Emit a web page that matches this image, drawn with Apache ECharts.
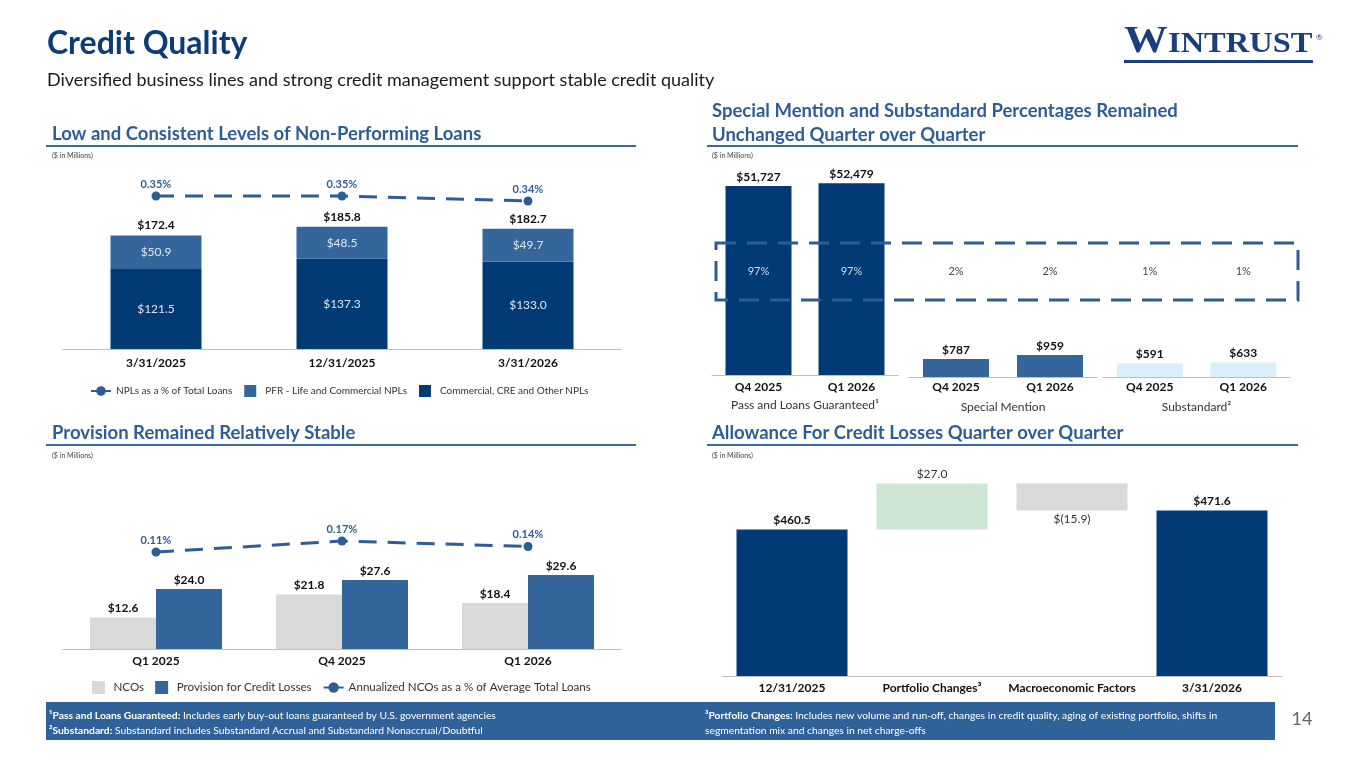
<!DOCTYPE html>
<html>
<head>
<meta charset="utf-8">
<title>Credit Quality</title>
<script src="https://cdn.jsdelivr.net/npm/echarts@6.0.0/dist/echarts.min.js"></script>
<style>
    html, body { margin: 0; padding: 0; background: #fff; }
    #container { width: 1365px; height: 768px; }
</style>
</head>
<body>
<div id="container"></div>
<script>
// non-performing loans
var nplDates = ['3/31/2025', '12/31/2025', '3/31/2026'];
var nplCommercial = [121.5, 137.3, 133.0];
var nplPfr = [50.9, 48.5, 49.7];
var nplPct = [0.35, 0.35, 0.34];

// risk rating buckets
var ratingQuarters = ['Q4 2025', 'Q1 2026'];
var passLoans = [51727, 52479];
var specialMention = [787, 959];
var substandard = [591, 633];
var passPct = [97, 97];
var specialPct = [2, 2];
var substandardPct = [1, 1];

// provision
var provQuarters = ['Q1 2025', 'Q4 2025', 'Q1 2026'];
var ncos = [12.6, 21.8, 18.4];
var provision = [24.0, 27.6, 29.6];
var ncoPct = [0.11, 0.17, 0.14];

// allowance walk
var aclSteps = ['12/31/2025', 'Portfolio Changes\u00b3', 'Macroeconomic Factors', '3/31/2026'];
var aclStart = 460.5;
var aclChanges = [27.0, -15.9];
var aclEnd = 471.6;

var NAVY = '#023a75', MID = '#34669b', LIGHT = '#dbeefb', GRAY = '#d9d9d9', GREEN = '#cfe5d3';
var ACCENT = '#2e5d96';
var FONT = 'Lato';

var myChart = echarts.init(document.getElementById('container'));

function money(v) {
    return '$' + v.toFixed(1);
}
function thousands(v) {
    return '$' + String(v).replace(/\B(?=(\d{3})+(?!\d))/g, ',');
}

var nplTotal = nplCommercial.map(function (v, i) { return +(v + nplPfr[i]).toFixed(1); });

// waterfall: invisible base + visible step
var aclBase = [0], aclDelta = [{value: aclStart, itemStyle: {color: NAVY}, label: {fontWeight: 'bold', color: '#111', formatter: money(aclStart)}}];
var running = aclStart;
aclChanges.forEach(function (c) {
    if (c >= 0) {
        aclBase.push(running);
        aclDelta.push({value: c, itemStyle: {color: GREEN}, label: {position: 'top', formatter: money(c)}});
        running += c;
    } else {
        running += c;
        aclBase.push(running);
        aclDelta.push({value: -c, itemStyle: {color: GRAY}, label: {position: 'bottom', formatter: '$(' + (-c).toFixed(1) + ')'}});
    }
});
aclBase.push(0);
aclDelta.push({value: aclEnd, itemStyle: {color: NAVY}, label: {fontWeight: 'bold', color: '#111', formatter: money(aclEnd)}});

function catAxis(grid, data, margin, extra) {
    var ax = {
        type: 'category', gridIndex: grid, data: data,
        axisTick: {show: false},
        axisLine: {lineStyle: {color: '#bfbfbf', width: 1}},
        axisLabel: {interval: 0, fontFamily: FONT, fontWeight: 'bold', fontSize: 12, color: '#111', margin: margin}
    };
    for (var k in extra) ax[k] = extra[k];
    return ax;
}
function valAxis(grid, min, max) {
    return {type: 'value', gridIndex: grid, min: min, max: max, show: false, splitLine: {show: false}};
}
function groupName(name) {
    return {name: name, nameLocation: 'middle', nameGap: 24,
        nameTextStyle: {fontFamily: FONT, fontSize: 12, color: '#333'}};
}

var topLabel = {show: true, position: 'top', distance: 3, fontFamily: FONT, fontWeight: 'bold', fontSize: 12, color: '#111'};
var square = 'path://M0,0h10v10h-10z';

option = {
    animation: false,
    textStyle: {fontFamily: FONT},
    grid: [
        {left: 63, top: 178, width: 558, height: 171, outerBoundsMode: 'none'},
        {left: 712, top: 170, width: 186, height: 205, outerBoundsMode: 'none'},
        {left: 909, top: 172, width: 188, height: 205, outerBoundsMode: 'none'},
        {left: 1103, top: 172, width: 187, height: 205, outerBoundsMode: 'none'},
        {left: 63, top: 539, width: 558, height: 110, outerBoundsMode: 'none'},
        {left: 722, top: 462, width: 560, height: 214, outerBoundsMode: 'none'}
    ],
    xAxis: [
        catAxis(0, nplDates, 8),
        catAxis(1, ratingQuarters, 6, groupName('Pass and Loans Guaranteed\u00b9')),
        catAxis(2, ratingQuarters, 4, groupName('Special Mention')),
        catAxis(3, ratingQuarters, 4, groupName('Substandard\u00b2')),
        catAxis(4, provQuarters, 6),
        catAxis(5, aclSteps, 6)
    ],
    yAxis: [
        valAxis(0, 0, 260),
        valAxis(0, 0.044, 0.386),
        valAxis(1, 0, 56100),
        valAxis(2, 0, 8950),
        valAxis(3, 0, 8950),
        valAxis(4, 0, 44),
        valAxis(4, -0.419, 0.181),
        valAxis(5, 375, 500)
    ],
    legend: [
        {
            left: 85, top: 380, itemWidth: 20, itemHeight: 12, itemGap: 12,
            textStyle: {fontFamily: FONT, fontSize: 10, color: '#333'},
            data: [
                {name: 'NPLs as a % of Total Loans', lineStyle: {type: 'solid'}},
                {name: 'PFR - Life and Commercial NPLs', icon: square},
                {name: 'Commercial, CRE and Other NPLs', icon: square}
            ]
        },
        {
            left: 87, top: 676, itemWidth: 20, itemHeight: 13, itemGap: 11,
            textStyle: {fontFamily: FONT, fontSize: 11.6, color: '#333'},
            data: [
                {name: 'NCOs', icon: square},
                {name: 'Provision for Credit Losses', icon: square},
                {name: 'Annualized NCOs as a % of Average Total Loans', lineStyle: {type: 'solid'}}
            ]
        }
    ],
    series: [
        {
            name: 'Commercial, CRE and Other NPLs', type: 'bar', stack: 'npl',
            xAxisIndex: 0, yAxisIndex: 0, barWidth: 91, data: nplCommercial,
            itemStyle: {color: NAVY},
            label: {show: true, position: 'inside', fontFamily: FONT, fontSize: 12, color: '#dde6f0',
                formatter: function (p) { return money(p.value); }}
        },
        {
            name: 'PFR - Life and Commercial NPLs', type: 'bar', stack: 'npl',
            xAxisIndex: 0, yAxisIndex: 0, barWidth: 91, data: nplPfr,
            itemStyle: {color: MID},
            label: {show: true, position: 'inside', fontFamily: FONT, fontSize: 12, color: '#dde6f0',
                formatter: function (p) { return money(p.value); }}
        },
        {
            // zero-height cap on the stack, only carries the total label
            name: 'npl total', type: 'bar', stack: 'npl',
            xAxisIndex: 0, yAxisIndex: 0, barWidth: 91, silent: true,
            data: nplTotal.map(function () { return 0; }),
            itemStyle: {color: 'rgba(0,0,0,0)'},
            label: {show: true, position: 'top', distance: 4, fontFamily: FONT, fontWeight: 'bold', fontSize: 12, color: '#111',
                formatter: function (p) { return money(nplTotal[p.dataIndex]); }}
        },
        {
            name: 'NPLs as a % of Total Loans', type: 'line', xAxisIndex: 0, yAxisIndex: 1,
            data: nplPct, symbol: 'circle', symbolSize: 9,
            lineStyle: {color: ACCENT, width: 3, type: [18, 11]},
            itemStyle: {color: ACCENT},
            label: {show: true, position: 'top', distance: 2, fontFamily: FONT, fontWeight: 'bold', fontSize: 11, color: ACCENT,
                formatter: function (p) { return p.value.toFixed(2) + '%'; }}
        },
        {
            name: 'Pass and Loans Guaranteed', type: 'bar', xAxisIndex: 1, yAxisIndex: 2,
            data: passLoans, barWidth: 66, itemStyle: {color: NAVY},
            label: Object.assign({}, topLabel, {formatter: function (p) { return thousands(p.value); }})
        },
        {
            name: 'Special Mention', type: 'bar', xAxisIndex: 2, yAxisIndex: 3,
            data: specialMention, barWidth: 66, itemStyle: {color: MID},
            label: Object.assign({}, topLabel, {formatter: function (p) { return thousands(p.value); }})
        },
        {
            name: 'Substandard', type: 'bar', xAxisIndex: 3, yAxisIndex: 4,
            data: substandard, barWidth: 66, itemStyle: {color: LIGHT},
            label: Object.assign({}, topLabel, {formatter: function (p) { return thousands(p.value); }})
        },
        {
            name: 'NCOs', type: 'bar', xAxisIndex: 4, yAxisIndex: 5,
            data: ncos, barWidth: 66, barGap: '0%', itemStyle: {color: GRAY},
            label: Object.assign({}, topLabel, {formatter: function (p) { return money(p.value); }})
        },
        {
            name: 'Provision for Credit Losses', type: 'bar', xAxisIndex: 4, yAxisIndex: 5,
            data: provision, barWidth: 66, barGap: '0%', itemStyle: {color: MID},
            label: Object.assign({}, topLabel, {formatter: function (p) { return money(p.value); }})
        },
        {
            name: 'Annualized NCOs as a % of Average Total Loans', type: 'line', xAxisIndex: 4, yAxisIndex: 6,
            data: ncoPct, symbol: 'circle', symbolSize: 9,
            lineStyle: {color: ACCENT, width: 3, type: [18, 11]},
            itemStyle: {color: ACCENT},
            label: {show: true, position: 'top', distance: 2, fontFamily: FONT, fontSize: 11, fontWeight: 'bold', color: ACCENT,
                formatter: function (p) { return p.value.toFixed(2) + '%'; }}
        },
        {
            name: 'acl base', type: 'bar', stack: 'acl', xAxisIndex: 5, yAxisIndex: 7,
            data: aclBase, barWidth: 111, silent: true, itemStyle: {color: 'rgba(0,0,0,0)'}
        },
        {
            name: 'acl step', type: 'bar', stack: 'acl', xAxisIndex: 5, yAxisIndex: 7,
            data: aclDelta, barWidth: 111,
            label: {show: true, position: 'top', distance: 3, fontFamily: FONT, fontSize: 12, color: '#333'}
        }
    ]
};

myChart.setOption(option, true);

// slide furniture: titles, rules, footnotes
function txt(x, y, text, font, fill, align, rich) {
    var el = {
        type: 'text', x: x, y: y, z: 100,
        style: {text: text, font: font, fill: fill,
            textAlign: align || 'left', align: align || 'left',
            textVerticalAlign: 'middle', verticalAlign: 'middle'}
    };
    if (rich) el.style.rich = rich;
    return el;
}
function bar(x, y, w, h, fill) {
    return {type: 'rect', z: 100, shape: {x: x, y: y, width: w, height: h}, style: {fill: fill}};
}

var HEAD = 'bold 18.5px ' + FONT;
var NOTE = '7px ' + FONT;
var FOOT = '10.3px ' + FONT;
var footRich = {b: {font: 'bold 10.3px ' + FONT, fill: '#fff'}};
var els = [
    txt(47, 44, 'Credit Quality', 'bold 32px ' + FONT, '#0b3b78'),
    txt(47, 80, 'Diversified business lines and strong credit management support stable credit quality', '18px ' + FONT, '#1a1a1a'),

    {type: 'text', x: 1124, y: 42, z: 100, scaleX: 1.15,
        style: {text: 'W', font: 'bold 38px "Liberation Serif"', fill: '#1a3f7e', textVerticalAlign: 'middle', verticalAlign: 'middle'}},
    {type: 'text', x: 1168, y: 45, z: 100, scaleX: 1.12,
        style: {text: 'INTRUST', font: 'bold 29px "Liberation Serif"', fill: '#1a3f7e', textVerticalAlign: 'middle', verticalAlign: 'middle'}},
    txt(1316, 37, '\u00ae', '8px ' + FONT, '#1a3f7e'),
    bar(1124, 60, 189, 3, '#1a3f7e'),

    txt(52, 134, 'Low and Consistent Levels of Non-Performing Loans', HEAD, ACCENT),
    bar(46, 145, 590, 2, '#3c6aa0'),
    txt(52, 156, '($ in Millions)', NOTE, '#444'),

    txt(712, 111, 'Special Mention and Substandard Percentages Remained', HEAD, ACCENT),
    txt(712, 135, 'Unchanged Quarter over Quarter', HEAD, ACCENT),
    bar(707, 145, 591, 2, '#3c6aa0'),
    txt(712, 156, '($ in Millions)', NOTE, '#444'),

    txt(52, 433, 'Provision Remained Relatively Stable', HEAD, ACCENT),
    bar(46, 444, 590, 2, '#3c6aa0'),
    txt(52, 456, '($ in Millions)', NOTE, '#444'),

    txt(712, 433, 'Allowance For Credit Losses Quarter over Quarter', HEAD, ACCENT),
    bar(707, 444, 591, 2, '#3c6aa0'),
    txt(712, 456, '($ in Millions)', NOTE, '#444'),

    {type: 'rect', z: 100, shape: {x: 716, y: 243, width: 582, height: 57},
        style: {fill: 'rgba(0,0,0,0)', stroke: ACCENT, lineWidth: 3, lineDash: [20, 11]}},

    bar(46, 702, 1229, 38, '#2f6298'),
    txt(49, 716, '{b|\u00b9Pass and Loans Guaranteed:} Includes early buy-out loans guaranteed by U.S. government agencies', FOOT, '#fff', 'left', footRich),
    txt(49, 731, '{b|\u00b2Substandard:} Substandard includes Substandard Accrual and Substandard Nonaccrual/Doubtful', FOOT, '#fff', 'left', footRich),
    txt(705, 716, '{b|\u00b3Portfolio Changes:} Includes new volume and run-off, changes in credit quality, aging of existing portfolio, shifts in', FOOT, '#fff', 'left', footRich),
    txt(705, 731, 'segmentation mix and changes in net charge-offs', FOOT, '#fff'),
    txt(1302, 719, '14', '18px ' + FONT, '#666', 'center')
];

// share-of-portfolio labels inside the dashed box, one per bar
[[1, passPct, '#d3dbe7'], [2, specialPct, '#444'], [3, substandardPct, '#444']].forEach(function (g) {
    ratingQuarters.forEach(function (q, i) {
        var px = myChart.convertToPixel({xAxisIndex: g[0]}, q);
        els.push(txt(px, 271, g[1][i] + '%', '11px ' + FONT, g[2], 'center'));
    });
});

myChart.setOption({graphic: {elements: els}});

window.onresize = function () {
    myChart.resize();
};
</script>
</body>
</html>
